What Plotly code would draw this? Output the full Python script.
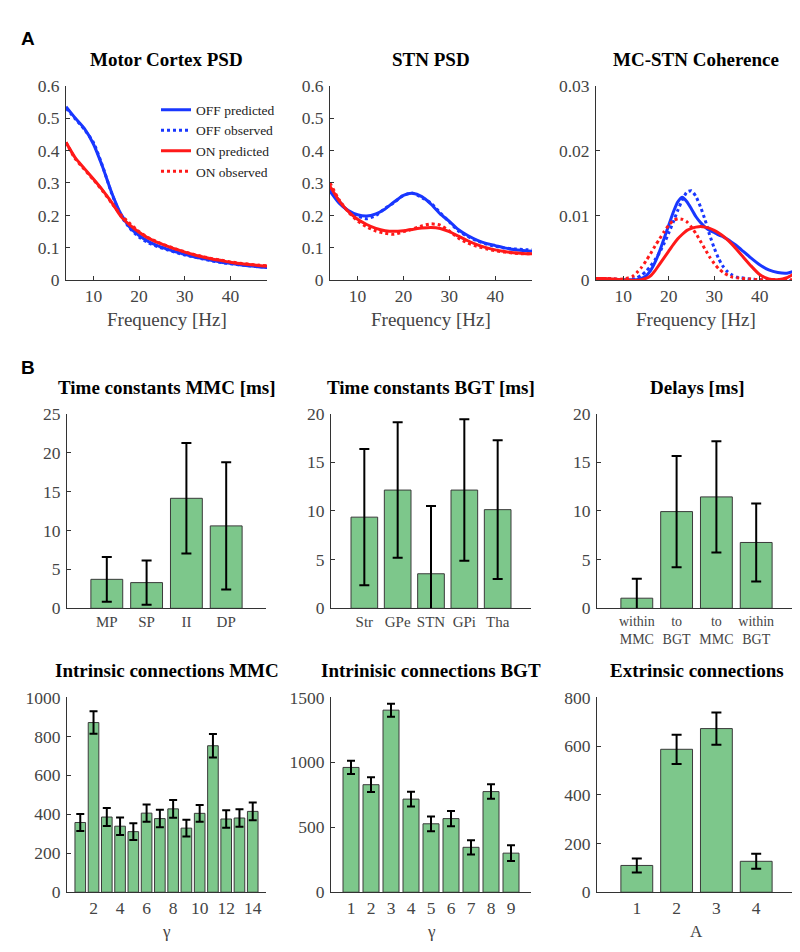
import plotly.graph_objects as go

W, H = 800, 952

# ---------------- data ----------------
psd_freq = [4, 6, 8, 10, 12, 14, 16, 18, 20, 22, 24, 26, 28, 30, 32, 34, 36, 38, 40, 42, 44, 46, 48]

mc_off_pred = [0.535, 0.500, 0.468, 0.420, 0.350, 0.270, 0.205, 0.163, 0.138, 0.120, 0.107, 0.097,
               0.088, 0.080, 0.073, 0.067, 0.061, 0.056, 0.052, 0.048, 0.045, 0.042, 0.040]
mc_off_obs = [0.530, 0.498, 0.465, 0.425, 0.352, 0.268, 0.200, 0.160, 0.133, 0.116, 0.104, 0.095,
              0.086, 0.078, 0.072, 0.066, 0.060, 0.055, 0.051, 0.048, 0.045, 0.042, 0.040]
mc_on_pred = [0.425, 0.378, 0.345, 0.312, 0.278, 0.240, 0.197, 0.170, 0.148, 0.130, 0.117, 0.106,
              0.096, 0.087, 0.079, 0.072, 0.066, 0.061, 0.056, 0.052, 0.049, 0.046, 0.044]
mc_on_obs = [0.425, 0.375, 0.342, 0.310, 0.276, 0.238, 0.202, 0.175, 0.150, 0.132, 0.118, 0.107,
             0.097, 0.088, 0.080, 0.073, 0.067, 0.062, 0.057, 0.053, 0.050, 0.047, 0.045]

stn_off_pred = [0.275, 0.238, 0.215, 0.202, 0.198, 0.205, 0.220, 0.242, 0.262, 0.268, 0.258, 0.235,
                0.205, 0.182, 0.156, 0.138, 0.124, 0.114, 0.107, 0.100, 0.095, 0.092, 0.090]
stn_off_obs = [0.285, 0.245, 0.212, 0.198, 0.190, 0.200, 0.222, 0.240, 0.262, 0.268, 0.255, 0.238,
               0.208, 0.180, 0.152, 0.135, 0.122, 0.112, 0.105, 0.100, 0.097, 0.095, 0.094]
stn_on_pred = [0.290, 0.245, 0.212, 0.188, 0.172, 0.160, 0.153, 0.151, 0.153, 0.157, 0.161, 0.163,
               0.160, 0.150, 0.136, 0.122, 0.110, 0.101, 0.094, 0.089, 0.085, 0.083, 0.082]
stn_on_obs = [0.300, 0.248, 0.210, 0.183, 0.165, 0.152, 0.145, 0.142, 0.150, 0.158, 0.168, 0.174,
              0.170, 0.152, 0.130, 0.115, 0.105, 0.097, 0.091, 0.087, 0.084, 0.082, 0.082]

coh_freq = [4, 6, 8, 10, 12, 13, 14, 15, 16, 17, 18, 19, 20, 21, 22, 23, 24, 25, 26, 27, 28, 29, 30,
            31, 32, 33, 34, 35, 36, 38, 40, 42, 44, 46, 48]
coh_off_pred = [0.0002, 0.0002, 0.0001, 0.0001, 0.0001, 0.0001, 0.0003, 0.0007, 0.0015, 0.0028,
                0.0045, 0.0065, 0.0085, 0.0105, 0.0121, 0.0128, 0.0121, 0.0110, 0.0098, 0.0089,
                0.0082, 0.0077, 0.0074, 0.0070, 0.0067, 0.0063, 0.0058, 0.0053, 0.0047, 0.0035,
                0.0024, 0.0016, 0.0012, 0.0011, 0.0015]
coh_off_obs = [0.0003, 0.0003, 0.0002, 0.0001, 0.0002, 0.0004, 0.0008, 0.0014, 0.0022, 0.0032,
               0.0043, 0.0057, 0.0073, 0.0090, 0.0108, 0.0124, 0.0136, 0.0138, 0.0129, 0.0113,
               0.0093, 0.0070, 0.0050, 0.0033, 0.0021, 0.0013, 0.0008, 0.0005, 0.0004, 0.0002,
               0.0001, 0.0001, 0.0001, 0.0000, 0.0000]
coh_on_pred = [0.0003, 0.0003, 0.0002, 0.0001, 0.0000, 0.0000, 0.0001, 0.0003, 0.0007, 0.0015,
               0.0025, 0.0035, 0.0045, 0.0055, 0.0064, 0.0071, 0.0077, 0.0080, 0.0082, 0.0083,
               0.0082, 0.0080, 0.0077, 0.0073, 0.0068, 0.0062, 0.0055, 0.0047, 0.0039, 0.0023,
               0.0009, 0.0002, 0.0001, 0.0004, 0.0012]
coh_on_obs = [0.0003, 0.0003, 0.0002, 0.0002, 0.0006, 0.0012, 0.0020, 0.0030, 0.0041, 0.0053,
              0.0064, 0.0075, 0.0085, 0.0092, 0.0095, 0.0094, 0.0090, 0.0082, 0.0072, 0.0060,
              0.0048, 0.0036, 0.0026, 0.0018, 0.0012, 0.0008, 0.0005, 0.0004, 0.0003, 0.0002,
              0.0001, 0.0001, 0.0001, 0.0001, 0.0001]

mmc_tau_labels = ["MP", "SP", "II", "DP"]
mmc_tau = [3.72, 3.30, 14.12, 10.58]
mmc_tau_err = [2.88, 2.85, 7.10, 8.15]

bgt_tau_labels = ["Str", "GPe", "STN", "GPi", "Tha"]
bgt_tau = [9.36, 12.14, 3.55, 12.14, 10.13]
bgt_tau_err = [7.00, 6.96, 6.95, 7.26, 7.13]

delay_labels = ["within<br>MMC", "to<br>BGT", "to<br>MMC", "within<br>BGT"]
delay_vals = [1.04, 9.93, 11.44, 6.76]
delay_err = [2.00, 5.70, 5.70, 4.00]

mmc_gamma = [358, 871, 386, 339, 311, 406, 378, 428, 329, 405, 752, 376, 381, 415]
mmc_gamma_err = [44, 58, 46, 45, 43, 44, 45, 46, 43, 43, 60, 45, 45, 46]

bgt_gamma = [961, 828, 1402, 717, 527, 567, 346, 775, 301]
bgt_gamma_err = [51, 57, 50, 56, 57, 58, 55, 56, 60]

ext_A = [110, 587, 672, 127]
ext_A_err = [29, 60, 66, 31]

# ---------------- style ----------------
BLUE = "rgb(25,55,255)"
RED = "rgb(255,25,25)"
GREEN = "rgb(125,199,139)"
SERIF = "Liberation Serif, Times New Roman, serif"
AXC = "#333333"
TICKC = "#444444"


def xd(a, b):
    return [a / W, b / W]


def yd(top, bottom):
    return [1 - bottom / H, 1 - top / H]


fig = go.Figure()

# panel geometry (pixels)
panels = {
    1: (58, 259, 69, 268), 2: (322, 524, 69, 268), 3: (588, 788, 69, 268),
    4: (59, 258, 404, 603), 5: (323, 523, 404, 603), 6: (589, 788, 404, 603),
    7: (59, 258, 694, 893), 8: (323, 523, 694, 893), 9: (589, 788, 694, 893),
}


def line_traces(freq, series, idx, show):
    names = ["OFF predicted", "OFF observed", "ON predicted", "ON observed"]
    cols = [BLUE, BLUE, RED, RED]
    dashes = ["solid", "dot", "solid", "dot"]
    for k in range(4):
        fig.add_trace(go.Scatter(
            x=freq, y=series[k], mode="lines", name=names[k],
            line=dict(color=cols[k], width=3, dash=dashes[k], shape="spline", smoothing=0.6),
            xaxis=f"x{idx}", yaxis=f"y{idx}", showlegend=show))


line_traces(psd_freq, [mc_off_pred, mc_off_obs, mc_on_pred, mc_on_obs], 1, True)
line_traces(psd_freq, [stn_off_pred, stn_off_obs, stn_on_pred, stn_on_obs], 2, False)
line_traces(coh_freq, [coh_off_pred, coh_off_obs, coh_on_pred, coh_on_obs], 3, False)


def bars(vals, errs, idx, capw):
    fig.add_trace(go.Bar(
        x=list(range(1, len(vals) + 1)), y=vals, width=0.8,
        marker=dict(color=GREEN, line=dict(color="#3a3a3a", width=1)),
        error_y=dict(type="data", array=errs, color="black", thickness=2, width=capw),
        xaxis=f"x{idx}", yaxis=f"y{idx}", showlegend=False))


bars(mmc_tau, mmc_tau_err, 4, 5)
bars(bgt_tau, bgt_tau_err, 5, 5)
bars(delay_vals, delay_err, 6, 5)
bars(mmc_gamma, mmc_gamma_err, 7, 4)
bars(bgt_gamma, bgt_gamma_err, 8, 4)
bars(ext_A, ext_A_err, 9, 5)

base_ax = dict(showline=True, linecolor=AXC, linewidth=1, ticks="inside", ticklen=4,
               tickcolor=AXC, showgrid=False, zeroline=False,
               tickfont=dict(family=SERIF, size=17.5, color=TICKC))

cat_font = dict(family=SERIF, size=15, color=TICKC)
x_specs = {
    1: dict(range=[4, 48], tickvals=[10, 20, 30, 40]),
    2: dict(range=[4, 48], tickvals=[10, 20, 30, 40]),
    3: dict(range=[4, 48], tickvals=[10, 20, 30, 40]),
    4: dict(range=[0, 5], tickvals=[1, 2, 3, 4], ticktext=mmc_tau_labels, ticks="", tickfont=cat_font),
    5: dict(range=[0, 6], tickvals=[1, 2, 3, 4, 5], ticktext=bgt_tau_labels, ticks="", tickfont=cat_font),
    6: dict(range=[0, 5], tickvals=[1, 2, 3, 4], ticktext=delay_labels, ticks="",
            tickfont=dict(family=SERIF, size=14, color=TICKC)),
    7: dict(range=[0, 15], tickvals=[2, 4, 6, 8, 10, 12, 14], ticks=""),
    8: dict(range=[0, 10], tickvals=list(range(1, 10)), ticks=""),
    9: dict(range=[0, 5], tickvals=[1, 2, 3, 4], ticks=""),
}
y_specs = {
    1: dict(range=[0, 0.6], tickvals=[0, 0.1, 0.2, 0.3, 0.4, 0.5, 0.6]),
    2: dict(range=[0, 0.6], tickvals=[0, 0.1, 0.2, 0.3, 0.4, 0.5, 0.6]),
    3: dict(range=[0, 0.03], tickvals=[0, 0.01, 0.02, 0.03]),
    4: dict(range=[0, 25], tickvals=[0, 5, 10, 15, 20, 25]),
    5: dict(range=[0, 20], tickvals=[0, 5, 10, 15, 20]),
    6: dict(range=[0, 20], tickvals=[0, 5, 10, 15, 20]),
    7: dict(range=[0, 1000], tickvals=[0, 200, 400, 600, 800, 1000]),
    8: dict(range=[0, 1500], tickvals=[0, 500, 1000, 1500]),
    9: dict(range=[0, 800], tickvals=[0, 200, 400, 600, 800]),
}

layout_axes = {}
for i, (x0, x1, y0, y1) in panels.items():
    xa = dict(base_ax)
    xa.update(x_specs[i])
    xa.update(domain=xd(x0, x1), anchor=f"y{i}")
    ya = dict(base_ax)
    ya.update(y_specs[i])
    ya.update(domain=yd(y0, y1), anchor=f"x{i}", ticklabelstandoff=2)
    key = "" if i == 1 else str(i)
    layout_axes["xaxis" + key] = xa
    layout_axes["yaxis" + key] = ya

fig.update_layout(**layout_axes)

# annotations: titles, axis labels, panel letters
ann = []


def text(x, y, s, size, bold=False, family=SERIF, color="black"):
    ann.append(dict(x=x / W, y=1 - y / H, xref="paper", yref="paper", text=(f"<b>{s}</b>" if bold else s),
                    showarrow=False, xanchor="center", yanchor="middle",
                    font=dict(family=family, size=size, color=color)))


titles = {1: "Motor Cortex PSD", 2: "STN PSD", 3: "MC-STN Coherence",
          4: "Time constants MMC [ms]", 5: "Time constants BGT [ms]", 6: "Delays [ms]",
          7: "Intrinsic connections MMC", 8: "Intrinisic connections BGT", 9: "Extrinsic connections"}
title_y = {1: 42, 2: 42, 3: 42, 4: 377, 5: 377, 6: 377, 7: 667, 8: 667, 9: 667}
for i, t in titles.items():
    x0, x1, _, _ = panels[i]
    text((x0 + x1) / 2, title_y[i], t, 19, bold=True)

for i in (1, 2, 3):
    x0, x1, _, _ = panels[i]
    text((x0 + x1) / 2, 308, "Frequency [Hz]", 19, color=TICKC)
for i, s in ((7, "γ"), (8, "γ"), (9, "A")):
    x0, x1, _, _ = panels[i]
    text((x0 + x1) / 2, 933, s, 17, color=TICKC)

text(20, 21, "A", 19, bold=True, family="Liberation Sans, Arial, sans-serif")
text(20, 357, "B", 19, bold=True, family="Liberation Sans, Arial, sans-serif")

fig.update_layout(
    annotations=ann,
    width=W, height=H,
    margin=dict(l=0, r=0, t=0, b=0),
    paper_bgcolor="white", plot_bgcolor="white",
    showlegend=True,
    legend=dict(x=148 / W, y=1 - 78 / H, xanchor="left", yanchor="top",
                bgcolor="rgba(0,0,0,0)", itemwidth=30, tracegroupgap=0,
                font=dict(family=SERIF, size=13.5, color="#222222")),
)

fig.write_html("out.html")
